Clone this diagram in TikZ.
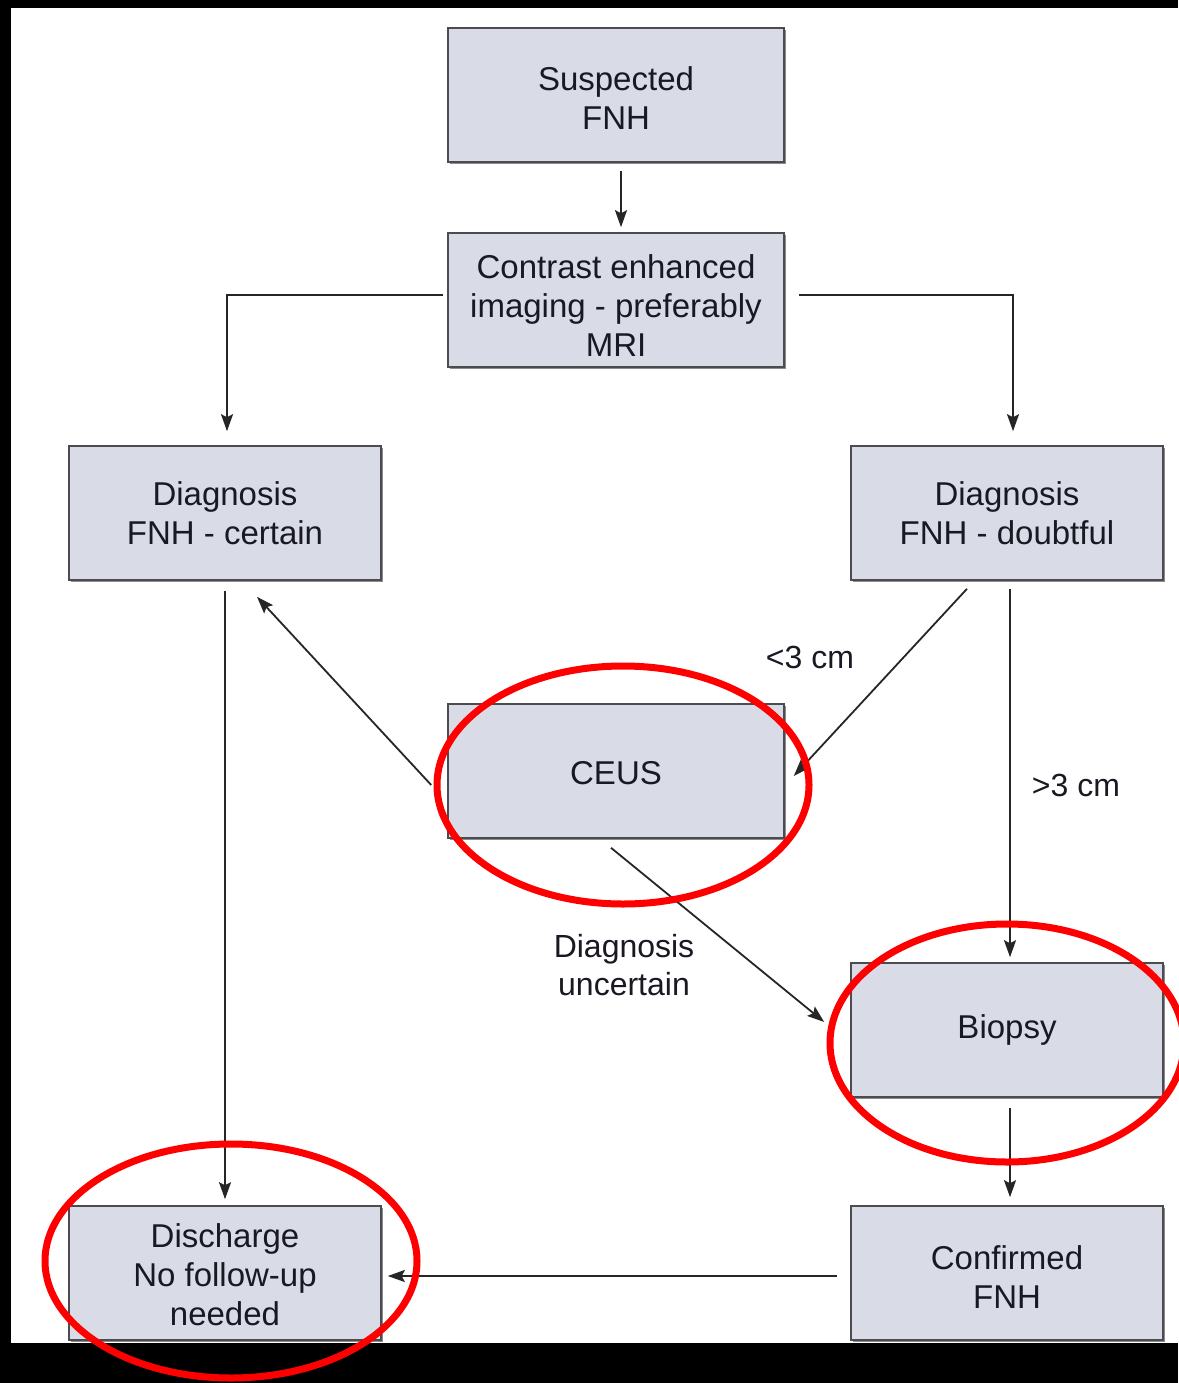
\documentclass[tikz,border=0pt]{standalone}
\usepackage{fontspec}
\setmainfont{Liberation Sans}
\usetikzlibrary{arrows.meta,shadows}
\definecolor{boxfill}{RGB}{217,220,231}
\definecolor{boxline}{RGB}{75,75,80}
\definecolor{txt}{RGB}{25,25,35}
\definecolor{ring}{RGB}{255,0,0}
\newcommand{\lift}[1]{\rule{0pt}{#1pt}}
\tikzset{
  fbox/.style={draw=boxline, line width=1.6pt, fill=boxfill, minimum width=336pt, minimum height=134pt,
    align=center, text=txt, font=\fontsize{33}{39}\selectfont, inner sep=0pt,
    drop shadow={shadow xshift=1.8pt, shadow yshift=-1.8pt, fill=black!45, opacity=1}},
  nbox/.style={fbox, minimum width=312pt},
  lbl/.style={align=center, text=txt, font=\fontsize{32}{38}\selectfont, inner sep=0pt},
  arr/.style={draw=black!85, line width=1.8pt, -{Stealth[length=17pt,width=12pt,inset=3pt]}},
  redring/.style={draw=ring, line width=7pt}
}
\begin{document}
\begin{tikzpicture}[x=1pt,y=-1pt]
\useasboundingbox (0,0) rectangle (1178,1383);
\fill[black] (0,0) rectangle (1178,1383);
\fill[white] (11,8) rectangle (1178,1343);

\node[fbox] (susp) at (616,95) {\lift{31}Suspected\\FNH};
\node[fbox] (contrast) at (616,300) {\lift{34}Contrast enhanced\\imaging - preferably\\MRI};
\node[nbox] (certain) at (225,513) {Diagnosis\\FNH - certain};
\node[nbox] (doubtful) at (1007,513) {Diagnosis\\FNH - doubtful};
\node[fbox] (ceus) at (616,771) {\lift{28}CEUS};
\node[nbox] (biopsy) at (1007,1030) {Biopsy};
\node[nbox] (discharge) at (225,1273) {\lift{27}Discharge\\No follow-up\\needed};
\node[nbox] (confirmed) at (1007,1273) {\lift{31}Confirmed\\FNH};

\node[lbl] (lt3) at (810,657) {<3 cm};
\node[lbl] (gt3) at (1076,785) {>3 cm};
\node[lbl] (unc) at (624,965) {Diagnosis\\uncertain};

\draw[arr] ([xshift=5pt,yshift=-8pt]susp.south) -- ([xshift=5pt,yshift=5pt]contrast.north);
\draw[arr] ([xshift=-4pt,yshift=5pt]contrast.west) -| ([xshift=2pt,yshift=14pt]certain.north);
\draw[arr] ([xshift=14pt,yshift=5pt]contrast.east) -| ([xshift=6pt,yshift=14pt]doubtful.north);
\draw[arr] ([xshift=-40pt,yshift=-8pt]doubtful.south) -- ([xshift=9pt,yshift=-5pt]ceus.east);
\draw[arr] ([xshift=3pt,yshift=-8pt]doubtful.south) -- ([xshift=3pt,yshift=5pt]biopsy.north);
\draw[arr] ([xshift=-16pt,yshift=-14pt]ceus.west) -- ([xshift=32pt,yshift=-16pt]certain.south);
\draw[arr] ([xshift=-5pt,yshift=-9pt]ceus.south) -- ([xshift=-26pt,yshift=8pt]biopsy.west);
\draw[arr] ([yshift=-10pt]certain.south) -- ([yshift=6pt]discharge.north);
\draw[arr] ([xshift=3pt,yshift=-10pt]biopsy.south) -- ([xshift=3pt,yshift=8pt]confirmed.north);
\draw[arr] ([xshift=-13pt,yshift=-3pt]confirmed.west) -- ([xshift=6pt,yshift=-3pt]discharge.east);

\draw[redring] (623,785) ellipse [x radius=186pt, y radius=119pt];
\draw[redring] (1007,1043) ellipse [x radius=177pt, y radius=119pt];
\draw[redring] (231,1261) ellipse [x radius=186pt, y radius=117pt];
\end{tikzpicture}
\end{document}
